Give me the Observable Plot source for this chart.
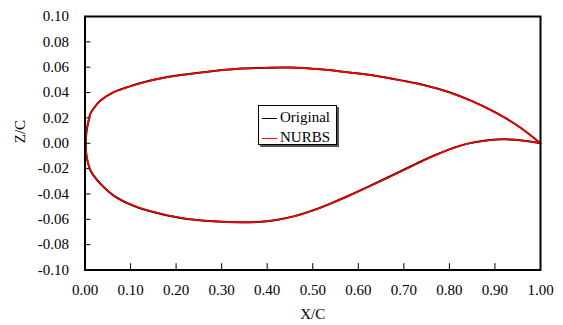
<!DOCTYPE html>
<html><head><meta charset="utf-8">
<script src="https://cdn.jsdelivr.net/npm/d3@7"></script>
<script src="https://cdn.jsdelivr.net/npm/@observablehq/plot@0.6"></script>
<style>
body{margin:0;background:#fff;}
#wrap{position:relative;width:563px;height:325px;font-family:"Liberation Serif","Times New Roman",serif;color:#000;}
#legend{position:absolute;left:258px;top:105px;width:77px;height:38px;border:1px solid #000;background:#fff;box-shadow:2px 2px 0 #555;font-size:15px;}
.row{position:absolute;left:3px;height:18px;line-height:18px;white-space:nowrap;}
.sw{display:inline-block;width:15px;height:0;border-top:1.5px solid;vertical-align:middle;margin-right:3px;}
</style></head>
<body><div id="wrap"></div>
<script>
const seriesNames = ["Original", "NURBS"];
const seriesColors = ["#000000", "#ff0000"];
const xTicks = [0, 0.1, 0.2, 0.3, 0.4, 0.5, 0.6, 0.7, 0.8, 0.9, 1.0];
const yTicks = [-0.10, -0.08, -0.06, -0.04, -0.02, 0, 0.02, 0.04, 0.06, 0.08, 0.10];
const xDomain = [0, 1];
const yDomain = [-0.1, 0.1];

// Original airfoil: upper surface, LE -> TE
const upperX = [0.0015, 0.002, 0.004, 0.008, 0.012, 0.02, 0.034, 0.063, 0.10, 0.137, 0.17, 0.21, 0.283, 0.342, 0.40, 0.452, 0.518, 0.584, 0.64, 0.694, 0.75, 0.80, 0.85, 0.90, 0.95, 1.0];
const upperZ = [-0.002, 0.004, 0.011, 0.018, 0.0235, 0.028, 0.0338, 0.0404, 0.0451, 0.0489, 0.0515, 0.0538, 0.057, 0.0589, 0.0596, 0.0597, 0.0583, 0.0557, 0.0531, 0.0496, 0.0454, 0.0402, 0.0332, 0.0245, 0.0138, 0.0];
// lower surface, LE -> TE
const lowerX = [0.0015, 0.002, 0.005, 0.012, 0.034, 0.063, 0.10, 0.137, 0.21, 0.283, 0.342, 0.38, 0.42, 0.46, 0.50, 0.54, 0.58, 0.62, 0.66, 0.70, 0.74, 0.767, 0.80, 0.84, 0.88, 0.92, 0.96, 1.0];
const lowerZ = [-0.002, -0.006, -0.013, -0.0215, -0.032, -0.0413, -0.0484, -0.0531, -0.0589, -0.0616, -0.0624, -0.0621, -0.0605, -0.0575, -0.053, -0.0474, -0.0412, -0.0346, -0.0278, -0.0209, -0.014, -0.0096, -0.0048, -0.0003, 0.0021, 0.0031, 0.0022, 0.0];
// NURBS fit (nearly identical to the original)
const nurbsUpperZ = [-0.002, 0.004, 0.011, 0.018, 0.0233, 0.0278, 0.0336, 0.0402, 0.0449, 0.0487, 0.0514, 0.0537, 0.057, 0.0589, 0.0596, 0.0597, 0.0583, 0.0557, 0.0531, 0.0495, 0.0453, 0.0401, 0.0332, 0.0245, 0.0138, 0.0];
const nurbsLowerZ = [-0.002, -0.006, -0.013, -0.0213, -0.0318, -0.0411, -0.0482, -0.0529, -0.0588, -0.0616, -0.0624, -0.0621, -0.0605, -0.0576, -0.0532, -0.0476, -0.0414, -0.0348, -0.0281, -0.0212, -0.0143, -0.0099, -0.005, -0.0004, 0.002, 0.0031, 0.0022, 0.0];

function outline(uz, lz) {
  const pts = [];
  for (let i = upperX.length - 1; i >= 0; i--) pts.push({x: upperX[i], z: uz[i]});
  for (let i = 1; i < lowerX.length; i++) pts.push({x: lowerX[i], z: lz[i]});
  return pts;
}
const original = outline(upperZ, lowerZ);
const nurbs = outline(nurbsUpperZ, nurbsLowerZ);
const fmt = d => d.toFixed(2);

const chart = Plot.plot({
  width: 563,
  height: 325,
  marginLeft: 84.5,
  marginRight: 23,
  marginTop: 16,
  marginBottom: 55.5,
  style: {fontFamily: "'Liberation Serif','Times New Roman',serif", fontSize: "15px", color: "#000", background: "#fff"},
  x: {domain: xDomain},
  y: {domain: yDomain},
  marks: [
    Plot.axisX(xTicks, {tickSize: 0, tickPadding: 14, tickFormat: fmt, label: null}),
    Plot.axisY(yTicks, {tickSize: 0, tickPadding: 16, tickFormat: fmt, label: null}),
    Plot.ruleY(yTicks, {y: d => d, x1: xDomain[0], x2: xDomain[0] + 0.013, stroke: "#000", strokeWidth: 1}),
    Plot.ruleX(xTicks, {x: d => d, y1: yDomain[0], y2: yDomain[0] + 0.005, stroke: "#000", strokeWidth: 1}),
    Plot.line(original, {x: "x", y: "z", stroke: seriesColors[0], strokeWidth: 2, curve: "catmull-rom"}),
    Plot.line(nurbs, {x: "x", y: "z", stroke: seriesColors[1], strokeWidth: 1.6, curve: "catmull-rom"}),
    Plot.frame({stroke: "#000", strokeWidth: 2}),
    Plot.text(["Z/C"], {frameAnchor: "left", dx: -64.5, rotate: -90, fontSize: 15}),
    Plot.text(["X/C"], {frameAnchor: "bottom", dy: 48.5, fontSize: 15})
  ]
});
const wrap = document.getElementById("wrap");
wrap.appendChild(chart);
const leg = document.createElement("div");
leg.id = "legend";
seriesNames.forEach((n, i) => {
  const r = document.createElement("div");
  r.className = "row";
  r.style.top = (2 + i * 20) + "px";
  r.innerHTML = `<span class="sw" style="border-color:${seriesColors[i]}"></span>${n}`;
  leg.appendChild(r);
});
wrap.appendChild(leg);
</script></body></html>
